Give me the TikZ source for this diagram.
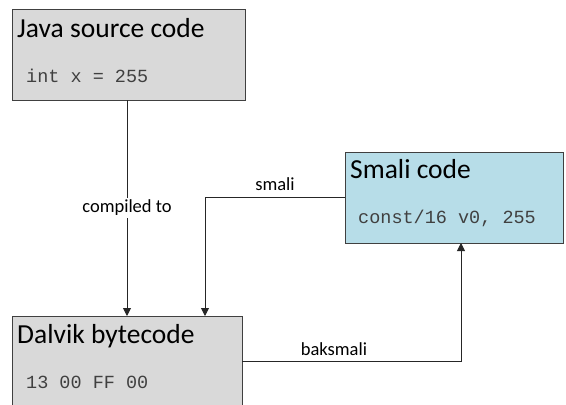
\documentclass[tikz,border=0pt]{standalone}
\usepackage{fontspec}
\setmainfont{Carlito}
\newfontfamily\codefont{Liberation Mono}
\usetikzlibrary{arrows.meta}
\definecolor{boxgray}{HTML}{D9D9D9}
\definecolor{boxblue}{HTML}{B7DDE8}
\definecolor{edge}{HTML}{404040}
\begin{document}
\begin{tikzpicture}[x=1pt,y=-1pt,
  box/.style={draw=edge, line width=1pt, inner sep=0pt, outer sep=0pt, anchor=north west},
  title/.style={anchor=base west, inner sep=0pt, font=\fontsize{27.5}{30}\selectfont},
  code/.style={anchor=base west, inner sep=0pt, text=black!75, font=\codefont\fontsize{18.5}{20}\selectfont},
  conn/.style={draw=black!85, line width=0.9pt, -{Triangle[width=8pt,length=8pt]}},
  lbl/.style={inner sep=2pt, font=\fontsize{18.5}{20}\selectfont}]
  \useasboundingbox (0,0) rectangle (566,405);
  \clip (0,0) rectangle (566,405);
  \fill[white] (0,0) rectangle (566,405);

  % boxes
  \node[box, fill=boxgray, minimum width=233pt, minimum height=91pt] (java) at (12,9) {};
  \node[box, fill=boxgray, minimum width=230pt, minimum height=110pt] (dalvik) at (12,316) {};
  \node[box, fill=boxblue, minimum width=218pt, minimum height=91pt] (smali) at (345,152) {};

  % box contents
  \node[title] (javat) at (17,37) {Java source code};
  \node[code] (javac) at (26,82) {int x = 255};
  \node[title] (dalvikt) at (17,343) {Dalvik bytecode};
  \node[code] (dalvikc) at (26,388) {13 00 FF 00};
  \node[title] (smalit) at (350,178) {Smali code};
  \node[code] (smalic) at (358,223) {const/16 v0, 255};

  % connectors
  \coordinate (cx) at (127,0);
  \coordinate (sx) at (205,0);
  \coordinate (bx) at (461,0);
  \coordinate (by) at (0,361);

  \draw[conn] (java.south -| cx) -- node[lbl, fill=white] (lcomp) {compiled to} (dalvik.north -| cx);
  \draw[conn] (smali.west) -| (dalvik.north -| sx);
  \node[lbl] (lsmali) at (275,184) {smali};
  \draw[conn] (dalvik.east |- by) -| (smali.south -| bx);
  \node[lbl] (lbak) at (334,349) {baksmali};
\end{tikzpicture}
\end{document}
